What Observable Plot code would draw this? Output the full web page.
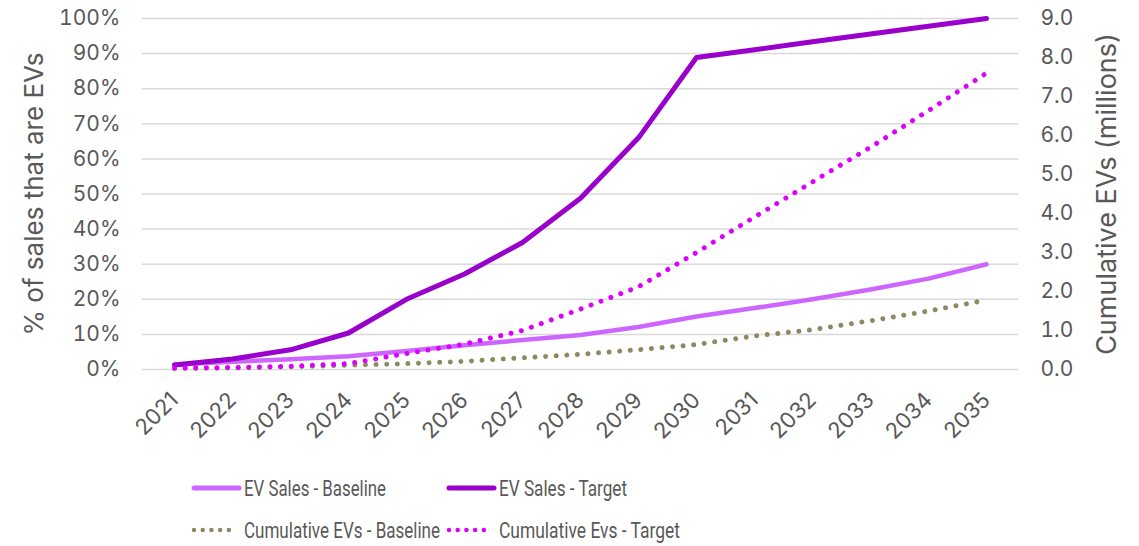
<!DOCTYPE html>
<html>
<head>
<meta charset="utf-8">
<script src="https://cdn.jsdelivr.net/npm/d3@7"></script>
<script src="https://cdn.jsdelivr.net/npm/@observablehq/plot@0.6"></script>
<style>
  html, body { margin: 0; padding: 0; background: #fff; }
  #wrap { width: 1139px; }
  #legend { position: relative; width: 1139px; height: 86px; }
  #legend svg { display: block; }
</style>
</head>
<body>
<div id="wrap">
  <div id="chart"></div>
  <div id="legend"></div>
</div>
<script>
const years = [2021, 2022, 2023, 2024, 2025, 2026, 2027, 2028, 2029, 2030, 2031, 2032, 2033, 2034, 2035];
// % of sales that are EVs (left axis)
const evSalesBaseline = [1.4, 2.2, 2.9, 3.8, 5.3, 6.9, 8.4, 9.8, 12.1, 15.1, 17.5, 20.0, 22.8, 25.9, 30.0];
const evSalesTarget = [1.3, 3.0, 5.6, 10.4, 20.0, 27.2, 36.2, 48.8, 66.0, 88.9, 91.1, 93.4, 95.6, 97.8, 100];
// Cumulative EVs in millions (right axis)
const cumBaseline = [0.02, 0.04, 0.07, 0.11, 0.15, 0.21, 0.30, 0.39, 0.51, 0.64, 0.86, 1.02, 1.25, 1.50, 1.78];
const cumTarget = [0.04, 0.05, 0.08, 0.15, 0.41, 0.65, 1.0, 1.55, 2.12, 3.0, 3.91, 4.81, 5.70, 6.64, 7.6];
const leftTicks = [0, 10, 20, 30, 40, 50, 60, 70, 80, 90, 100];
const rightTicks = [0, 1, 2, 3, 4, 5, 6, 7, 8, 9];
const seriesNames = ["EV Sales - Baseline", "EV Sales - Target", "Cumulative EVs - Baseline", "Cumulative Evs - Target"];

const RIGHT_MAX = 9;
const toLeft = v => v * 100 / RIGHT_MAX;

const rows = years.map((year, i) => ({
  year,
  evB: evSalesBaseline[i],
  evT: evSalesTarget[i],
  cumB: toLeft(cumBaseline[i]),
  cumT: toLeft(cumTarget[i])
}));

const colors = {
  evB: "#cc66ff",
  evT: "#9900cc",
  cumB: "#8b8a62",
  cumT: "#dd00ff"
};

const FONT = "Inter, 'Open Sans', Lato, sans-serif";
const TEXT = "#595959";

const chart = Plot.plot({
  width: 1139,
  height: 460,
  marginLeft: 142,
  marginRight: 121,
  marginTop: 18,
  marginBottom: 91,
  style: { fontFamily: FONT, fontSize: "21px", color: TEXT, background: "#fff" },
  x: { type: "point", domain: years, padding: 0.5 },
  y: { domain: [0, 100] },
  marks: [
    Plot.gridY(leftTicks, { stroke: "#d9d9d9", strokeOpacity: 1, strokeWidth: 1.5 }),
    Plot.axisX({ tickRotate: -45, tickSize: 0, tickPadding: 27, tickFormat: d => String(d), fontSize: 22, label: null }),
    Plot.axisY(leftTicks, {
      anchor: "left", tickSize: 0, tickPadding: 22, tickFormat: d => d + "%", fontSize: 21, label: null
    }),
    Plot.axisY({
      anchor: "left", ticks: [], tickSize: 0, fontSize: 26,
      label: "% of sales that are EVs", labelAnchor: "center", labelArrow: "none", labelOffset: 118
    }),
    Plot.axisY(rightTicks.map(toLeft), {
      anchor: "right", tickSize: 0, tickPadding: 22, tickFormat: d => (d * RIGHT_MAX / 100).toFixed(1), fontSize: 21, label: null
    }),
    Plot.axisY({
      anchor: "right", ticks: [], tickSize: 0, fontSize: 27,
      label: "Cumulative EVs (millions)", labelAnchor: "center", labelArrow: "none", labelOffset: 97
    }),
    Plot.line(rows, { x: "year", y: "evB", stroke: colors.evB, strokeWidth: 4.5, strokeLinecap: "round" }),
    Plot.line(rows, { x: "year", y: "evT", stroke: colors.evT, strokeWidth: 5, strokeLinecap: "round" }),
    Plot.line(rows, { x: "year", y: "cumB", stroke: colors.cumB, strokeWidth: 5, strokeLinecap: "round", strokeDasharray: "0.01 10.6" }),
    Plot.line(rows, { x: "year", y: "cumT", stroke: colors.cumT, strokeWidth: 5, strokeLinecap: "round", strokeDasharray: "0.01 10.6" })
  ]
});
document.getElementById("chart").appendChild(chart);

// Legend
const legendItems = [
  { name: seriesNames[0], color: colors.evB, dotted: false, x: 192, y: 28, w: 142 },
  { name: seriesNames[1], color: colors.evT, dotted: false, x: 447, y: 28, w: 128 },
  { name: seriesNames[2], color: colors.cumB, dotted: true, x: 192, y: 70, w: 196 },
  { name: seriesNames[3], color: colors.cumT, dotted: true, x: 447, y: 70, w: 181 }
];
const lsvg = d3.select("#legend").append("svg").attr("width", 1139).attr("height", 86);
for (const it of legendItems) {
  const g = lsvg.append("g");
  g.append("line")
    .attr("x1", it.x + 2).attr("x2", it.dotted ? it.x + 45 : it.x + 47)
    .attr("y1", it.y).attr("y2", it.y)
    .attr("stroke", it.color)
    .attr("stroke-width", it.dotted ? 4.5 : 5)
    .attr("stroke-linecap", "round")
    .attr("stroke-dasharray", it.dotted ? "0.01 8.7" : null);
  g.append("text")
    .attr("x", it.x + 52).attr("y", it.y)
    .attr("dy", "0.36em")
    .attr("fill", TEXT)
    .attr("font-family", "'Liberation Sans Narrow', Roboto, sans-serif")
    .attr("font-size", 22)
    .attr("textLength", it.w)
    .attr("lengthAdjust", "spacingAndGlyphs")
    .text(it.name);
}
</script>
</body>
</html>
